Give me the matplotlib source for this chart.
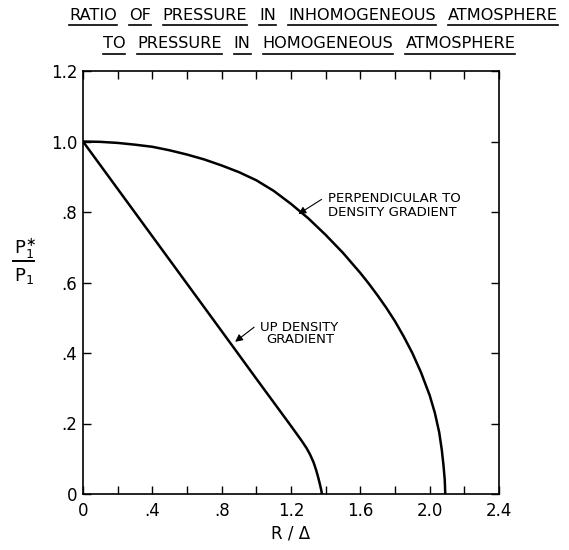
import matplotlib
matplotlib.use("Agg")
import matplotlib.pyplot as plt
from matplotlib.lines import Line2D
from matplotlib.ticker import MultipleLocator

# title words (each word is underlined separately)
title_line1 = ["RATIO", "OF", "PRESSURE", "IN", "INHOMOGENEOUS", "ATMOSPHERE"]
title_line2 = ["TO", "PRESSURE", "IN", "HOMOGENEOUS", "ATMOSPHERE"]

# perpendicular to density gradient
r_perp = [0, 0.1, 0.2, 0.3, 0.4, 0.5, 0.6, 0.7, 0.8, 0.9, 1.0, 1.1, 1.2, 1.3, 1.4, 1.5, 1.6,
          1.65, 1.7, 1.75, 1.8, 1.85, 1.9, 1.95, 2.0, 2.03, 2.055, 2.07, 2.08, 2.087, 2.09]
p_perp = [1.0, 0.999, 0.996, 0.991, 0.985, 0.975, 0.963, 0.949, 0.932, 0.913, 0.89, 0.86, 0.823,
          0.782, 0.735, 0.684, 0.627, 0.596, 0.563, 0.528, 0.49, 0.447, 0.40, 0.345, 0.28,
          0.23, 0.175, 0.125, 0.08, 0.04, 0.0]

# up density gradient
r_up = [0, 0.4, 0.8, 1.0, 1.2, 1.26, 1.29, 1.31, 1.33, 1.345, 1.358, 1.368, 1.375, 1.378]
p_up = [1.0, 0.731, 0.462, 0.327, 0.193, 0.152, 0.13, 0.112, 0.09, 0.068, 0.045, 0.025, 0.01, 0.0]

x_ticks = [0, 0.4, 0.8, 1.2, 1.6, 2.0, 2.4]
x_tick_labels = ["0", ".4", ".8", "1.2", "1.6", "2.0", "2.4"]
y_ticks = [0, 0.2, 0.4, 0.6, 0.8, 1.0, 1.2]
y_tick_labels = ["0", ".2", ".4", ".6", ".8", "1.0", "1.2"]

W, H = 569, 550
fig = plt.figure(figsize=(W / 100, H / 100), dpi=100)
ax = fig.add_axes([83 / W, 1 - 494 / H, 416 / W, 423 / H])

ax.plot(r_perp, p_perp, color="black", lw=1.8, solid_joinstyle="round")
ax.plot(r_up, p_up, color="black", lw=1.8, solid_joinstyle="round")

ax.set_xlim(0, 2.4)
ax.set_ylim(0, 1.2)
ax.set_xticks(x_ticks)
ax.set_xticklabels(x_tick_labels)
ax.xaxis.set_minor_locator(MultipleLocator(0.2))
ax.set_yticks(y_ticks)
ax.set_yticklabels(y_tick_labels)
ax.tick_params(which="both", direction="in", top=True, right=True,
               length=6, width=1.0, labelsize=12)
ax.tick_params(axis="x", pad=6)
ax.tick_params(axis="y", pad=4)
for s in ax.spines.values():
    s.set_linewidth(1.2)

# curve labels
ax.text(1.414, 0.818, "PERPENDICULAR TO\nDENSITY GRADIENT", fontsize=9.5,
        ha="left", va="center", linespacing=1.05)
ax.annotate("", xy=(1.229, 0.79), xytext=(1.39, 0.84),
            arrowprops=dict(arrowstyle="-|>", color="black", lw=0.8, mutation_scale=11))
ax.text(1.02, 0.473, "UP DENSITY", fontsize=9.5, ha="left", va="center")
ax.text(1.06, 0.437, "GRADIENT", fontsize=9.5, ha="left", va="center")
ax.annotate("", xy=(0.865, 0.427), xytext=(1.0, 0.478),
            arrowprops=dict(arrowstyle="-|>", color="black", lw=0.8, mutation_scale=11))

# axis labels
fig.text(291 / W, 1 - 533 / H, "R / \u0394", fontsize=12, ha="center", va="center")
fig.text(25 / W, 1 - 249 / H, r"$\mathsf{P_1^{\ast}}$", fontsize=13, ha="center", va="center")
fig.add_artist(Line2D([13 / W, 34 / W], [1 - 261 / H] * 2, color="black", lw=1.4))
fig.text(24 / W, 1 - 276 / H, r"$\mathsf{P_1}$", fontsize=13, ha="center", va="center")

# title with underlined words
renderer = fig.canvas.get_renderer()


def title_row(words, x0, x1, y_text, y_line, size, gap):
    texts = [fig.text(0, 1 - y_text / H, w, fontsize=size, ha="left", va="center") for w in words]
    widths = [t.get_window_extent(renderer).width for t in texts]
    total = sum(widths) + gap * (len(words) - 1)
    x = (x0 + x1) / 2 - total / 2
    for t, w in zip(texts, widths):
        t.set_x(x / W)
        fig.add_artist(Line2D([x / W, (x + w) / W], [1 - y_line / H] * 2, color="black", lw=1.2))
        x += w + gap


title_row(title_line1, 74, 553, 15, 25, 11.6, 12)
title_row(title_line2, 105, 513, 44, 54, 11.6, 12)

fig.savefig("out.png", dpi=100)
